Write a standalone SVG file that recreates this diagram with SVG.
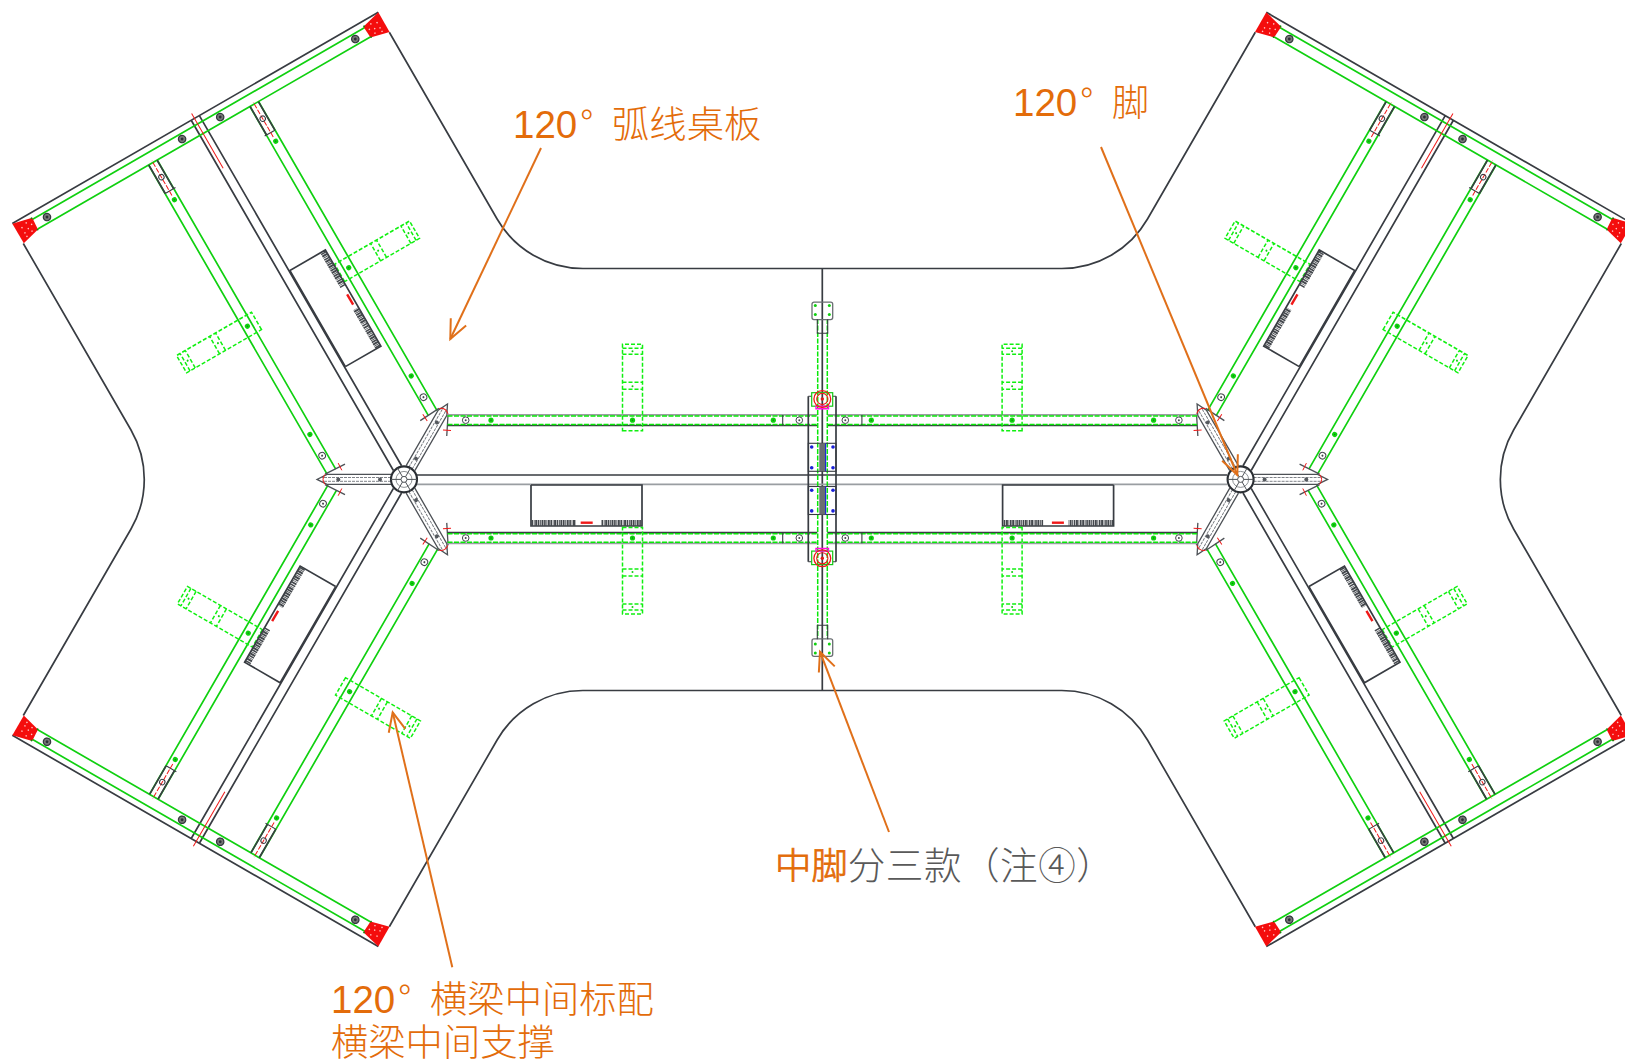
<svg xmlns="http://www.w3.org/2000/svg" xmlns:xlink="http://www.w3.org/1999/xlink" width="1625" height="1062" viewBox="0 0 1625 1062">
<style>
.d{fill:none;stroke:#383c42;stroke-width:1.7}
.t{fill:none;stroke:#383c42;stroke-width:1.1}
.gy{fill:none;stroke:#9a9ea2;stroke-width:1.7}
.s{fill:none;stroke:#4d5156;stroke-width:1.3}
.sd{fill:none;stroke:#70747a;stroke-width:.9;stroke-dasharray:3 1}
.sp{fill:none;stroke:#4f5358;stroke-width:1}
.sp2{fill:none;stroke:#74787c;stroke-width:.8}
.g{fill:none;stroke:#10d010;stroke-width:1.7}
.gd{fill:none;stroke:#08e808;stroke-width:1.5;stroke-dasharray:5 1.5}
.sup{fill:none;stroke:#10f010;stroke-width:1.5;stroke-dasharray:4 2}
.r{fill:none;stroke:#f01818;stroke-width:1}
.rd{fill:none;stroke:#f01818;stroke-width:1;stroke-dasharray:5 1.6}
.dot{fill:#10d010}
.scr{fill:#55595e}
.bolt{fill:#777;stroke:#34383d;stroke-width:1.2}
.ring{fill:#fff;stroke:#44484d;stroke-width:1}
.hat{fill:none;stroke:#44484d;stroke-width:6;stroke-dasharray:1.6 .7 .8 .6 2 .6}
.arrow{fill:none;stroke:#e0701a;stroke-width:2;marker-end:url(#head)}
.lab{font-family:"Liberation Sans","Noto Sans CJK SC",sans-serif;font-size:38.5px;fill:#e36c0a}
.cjk{font-family:"Noto Sans CJK SC",sans-serif;font-weight:300;font-size:37.3px}
.big{font-size:37.6px}
.mid{font-size:36.4px;stroke:#e36c0a;stroke-width:.8}
.rest{fill:#595959;letter-spacing:.5px}
</style>
<defs>
<marker id="head" markerUnits="userSpaceOnUse" markerWidth="26" markerHeight="24" viewBox="-1 -12 24 24" refX="20" refY="0" orient="auto"><path d="M1,-8.5 L20,0 L1,8.5" fill="none" stroke="#e0701a" stroke-width="2"/></marker>
<g id="bolt"><circle r="3.7" class="bolt"/><circle r="1.4" fill="#2d3136"/></g>
<g id="sc"><circle r="3.3" class="ring"/><circle r="1" fill="#44484d"/></g>
<g id="gdot"><circle r="2.6" class="dot"/><circle r=".7" fill="#0a8a0a"/></g>
<g id="corner"><path d="M417.3,211.3 L394.6,211.2 L399.5,192 L412.4,191.2Z" fill="#f40d0d"/>
<g fill="#ffc8c8"><circle cx="409" cy="205" r=".8"/><circle cx="403" cy="205" r=".8"/><circle cx="399" cy="205" r=".8"/><circle cx="411" cy="199" r=".8"/><circle cx="405" cy="200" r=".8"/><circle cx="401" cy="198" r=".8"/><circle cx="407" cy="195" r=".8"/></g>
<circle cx="412.4" cy="192" r=".9" fill="#0a8a0a"/><circle cx="399.5" cy="192.5" r=".9" fill="#0a8a0a"/></g>
<g id="support"><path class="sup" d="M-10,-10.5 H10 V76 H-10Z M-10,66 H10 M-10,72 H10 M-10,37.9 H10 M-10,31 H10"/><circle cy="69" r="1" fill="#10d010"/><circle cy="34" r="1" fill="#10d010"/></g>
<g id="sub"><path class="g" d="M43,-5 H400 M43,5 H400"/><use xlink:href="#sc" href="#sc" x="61.5"/><use xlink:href="#gdot" href="#gdot" x="86"/><use xlink:href="#gdot" href="#gdot" x="211"/><use xlink:href="#gdot" href="#gdot" x="357"/><use xlink:href="#support" href="#support" x="211"/>
<path class="d" d="M400,-4.8 H367 M400,4.8 H367"/><path class="t" d="M367,-7 V4.8"/>
<path class="rd" d="M362,0 H402"/><circle cx="383" r="2.7" fill="none" stroke="#383c42" stroke-width="1"/></g>
<g id="tray"><path class="d" d="M127,5.6 V46.6 H238 V5.6 H127"/><path class="hat" d="M127.5,43.6 H172 M197.5,43.6 H237.5"/><path d="M176.7,43.3 H188.7" stroke="#f01818" stroke-width="2.4" fill="none"/></g>
<g id="wing"><path class="d" d="M13,-4.7 H417.4 M13,4.7 H417.4 M417.4,-211.3 V211.3"/><path class="g" d="M400,-192 V192 M411,-192 V192"/><path class="r" d="M360,-1 H423"/>
<use xlink:href="#corner" href="#corner"/><use xlink:href="#corner" href="#corner" transform="scale(1,-1)"/>
<use xlink:href="#bolt" href="#bolt" x="405.7" y="22"/><use xlink:href="#bolt" href="#bolt" x="405.7" y="-22"/><use xlink:href="#bolt" href="#bolt" x="405.7" y="178"/><use xlink:href="#bolt" href="#bolt" x="405.7" y="-178"/>
<use xlink:href="#sub" href="#sub" y="58"/><use xlink:href="#sub" href="#sub" transform="translate(0,-59) scale(1,-1)"/><use xlink:href="#tray" href="#tray"/></g>
<g id="stub"><path class="s" d="M13,-5 H77 L87,0 L77,5 H13"/><path class="sd" d="M13,-1.9 H82 M13,1.9 H82"/><path class="s" d="M79,5.3 L59,15.3 M79,-5.3 L59,-15.3"/><circle cx="24" r="2" class="scr"/><circle cx="65.7" r="2" class="scr"/><path class="r" d="M79,-5 Q83,0 79,5 M65.8,16.3 L62.2,9.1 M65.8,-16.3 L62.2,-9.1"/></g>
<g id="hubcore"><circle r="13" fill="none" stroke="#2a2e33" stroke-width="2.1"/><circle r="8" class="sp2"/><circle r="3" class="sp"/><path class="sp" d="M-13,0 H-3 M13,0 H3 M-6.5,-11.3 L-1.5,-2.6 M6.5,11.3 L1.5,2.6 M-6.5,11.3 L-1.5,2.6 M6.5,-11.3 L1.5,-2.6"/></g>
<g id="hub"><use xlink:href="#stub" href="#stub" transform="rotate(180)"/><use xlink:href="#stub" href="#stub" transform="rotate(-60)"/><use xlink:href="#stub" href="#stub" transform="rotate(60)"/><use xlink:href="#hubcore" href="#hubcore"/></g>
<g id="cb"><path class="d" d="M43.5,-5.3 H413.3"/><path class="gy" d="M43.5,5.3 H413.3"/><path class="gd" d="M43.5,-4.2 H413.3 M43.5,4.2 H413.3"/><path class="t" d="M378.7,-5.3 V5.3"/><use xlink:href="#sc" href="#sc" x="61.7"/><use xlink:href="#gdot" href="#gdot" x="87"/><use xlink:href="#gdot" href="#gdot" x="228.5"/><use xlink:href="#gdot" href="#gdot" x="369.3"/><use xlink:href="#sc" href="#sc" x="395.3"/><use xlink:href="#support" href="#support" x="228.5"/></g>
<g id="plate"><rect x="812" y="0" width="20.7" height="17.4" rx="2" fill="none" stroke="#6a6e72" stroke-width="1.3"/><path class="t" d="M817.3,17 V31 H827.7 V17"/><g class="dot"><circle cx="815.3" cy="3.2" r="1.5"/><circle cx="829.3" cy="3.2" r="1.5"/><circle cx="815.3" cy="12.2" r="1.5"/><circle cx="829.3" cy="12.2" r="1.5"/></g></g>
<g id="lift"><rect x="811.7" y="-6.3" width="21" height="13.5" fill="none" stroke="#14c814" stroke-width="1.2"/><path d="M816,7.2 H828.5 V9.8 H816Z" fill="none" stroke="#ff10e0" stroke-width="1.4"/><circle cx="822.3" r="8.4" fill="none" stroke="#f01818" stroke-width="1.3"/><circle cx="822.3" r="5.6" fill="none" stroke="#f01818" stroke-width="1.1"/><circle cx="822.3" r="1.7" fill="#e01818"/></g>
<g id="blue"><rect x="808.3" y="0" width="27.7" height="28" class="t"/><rect x="819.3" y="0" width="6.6" height="28" fill="#6a6e72"/><path d="M825.6,0 V28" stroke="#1a2ad8" stroke-width="1.2"/><g fill="#1a20d8"><circle cx="811.7" cy="3.7" r="1.8"/><circle cx="833" cy="3.7" r="1.8"/><circle cx="811.7" cy="24.4" r="1.8"/><circle cx="833" cy="24.4" r="1.8"/></g></g>
</defs>
<rect width="1625" height="1062" fill="#fff"/>
<g id="tabletop"><path class="d" d="M389.3,32.3 L497.1,219 A99,99 0 0 0 582.9,268.5 H1061.7 A99,99 0 0 0 1147.5,219 L1255.3,32.3"/><path class="d" d="M389.3,926.7 L497.1,740 A99,99 0 0 1 582.9,690.5 H1061.7 A99,99 0 0 1 1147.5,740 L1255.3,926.7"/><path class="d" d="M23.3,243.5 L131,430 A99,99 0 0 1 131,529 L23.3,715.5"/><path class="d" d="M1621.3,243.5 L1513.6,430 A99,99 0 0 0 1513.6,529 L1621.3,715.5"/></g>
<g id="main-beam"><path class="d" d="M417,475 H1227 M822.3,268.5 V690.5"/><path class="gy" d="M417,484.3 H1227"/></g>
<g id="wing-upper-left" transform="matrix(-.5,-.866025,.866025,-.5,404,479.4)"><use xlink:href="#wing" href="#wing"/></g>
<g id="wing-lower-left" transform="matrix(-.5,.866025,-.866025,-.5,404,479.4)"><use xlink:href="#wing" href="#wing"/></g>
<g id="wing-upper-right" transform="matrix(.5,-.866025,-.866025,-.5,1240.6,479.4)"><use xlink:href="#wing" href="#wing"/></g>
<g id="wing-lower-right" transform="matrix(.5,.866025,.866025,-.5,1240.6,479.4)"><use xlink:href="#wing" href="#wing"/></g>
<g id="hub-left" transform="translate(404,479.4)"><use xlink:href="#hub" href="#hub"/></g>
<g id="hub-right" transform="matrix(-1,0,0,1,1240.6,479.4)"><use xlink:href="#hub" href="#hub"/></g>
<g id="tray-left" transform="translate(404,479.4)"><use xlink:href="#tray" href="#tray"/></g>
<g id="tray-right" transform="matrix(-1,0,0,1,1240.6,479.4)"><use xlink:href="#tray" href="#tray"/></g>
<g id="beam-top-left" transform="matrix(1,0,0,-1,404,420.2)"><use xlink:href="#cb" href="#cb"/></g>
<g id="beam-top-right" transform="matrix(-1,0,0,-1,1240.6,420.2)"><use xlink:href="#cb" href="#cb"/></g>
<g id="beam-bottom-left" transform="translate(404,538)"><use xlink:href="#cb" href="#cb"/></g>
<g id="beam-bottom-right" transform="matrix(-1,0,0,1,1240.6,538)"><use xlink:href="#cb" href="#cb"/></g>
<g id="center-column">
<path class="gd" d="M817.7,319 V638 M827.3,319 V638"/>
<path class="d" d="M808.3,396.3 V561.7 M836,396.3 V561.7"/>
<path class="t" d="M808.3,396.3 H811.7 M836,396.3 H832.7 M808.3,561.7 H811.7 M836,561.7 H832.7"/>
<use xlink:href="#plate" href="#plate" y="302.2"/>
<use xlink:href="#plate" href="#plate" transform="translate(0,656.3) scale(1,-1)"/>
<use xlink:href="#lift" href="#lift" y="399"/>
<use xlink:href="#lift" href="#lift" transform="translate(0,558.3) scale(1,-1)"/>
<use xlink:href="#blue" href="#blue" y="443.3"/>
<use xlink:href="#blue" href="#blue" y="486.5"/>
</g>
<g id="connectors">
<path class="arrow" d="M541,148 L450.3,339"/>
<path class="arrow" d="M1101,147 L1237.3,475"/>
<path class="arrow" d="M889,832 L820,651.7"/>
<path class="arrow" d="M452.3,967.3 L392.7,712.3"/>
</g>
<g id="labels">
<text class="lab" x="513" y="138"><tspan>120</tspan><tspan class="cjk" dx="3">°</tspan><tspan class="cjk" dx="10.5"> 弧线桌板</tspan></text>
<text class="lab" x="1013" y="116"><tspan>120</tspan><tspan class="cjk" dx="3">°</tspan><tspan class="cjk" dx="10.5"> 脚</tspan></text>
<text class="lab" x="331" y="1013"><tspan>120</tspan><tspan class="cjk" dx="3">°</tspan><tspan class="cjk" dx="10.5"> 横梁中间标配</tspan></text>
<text class="lab cjk" x="331" y="1056">横梁中间支撑</text>
<text class="lab cjk big" x="775" y="879"><tspan class="mid">中脚</tspan><tspan class="rest">分三款（注④）</tspan></text>
</g>
</svg>
